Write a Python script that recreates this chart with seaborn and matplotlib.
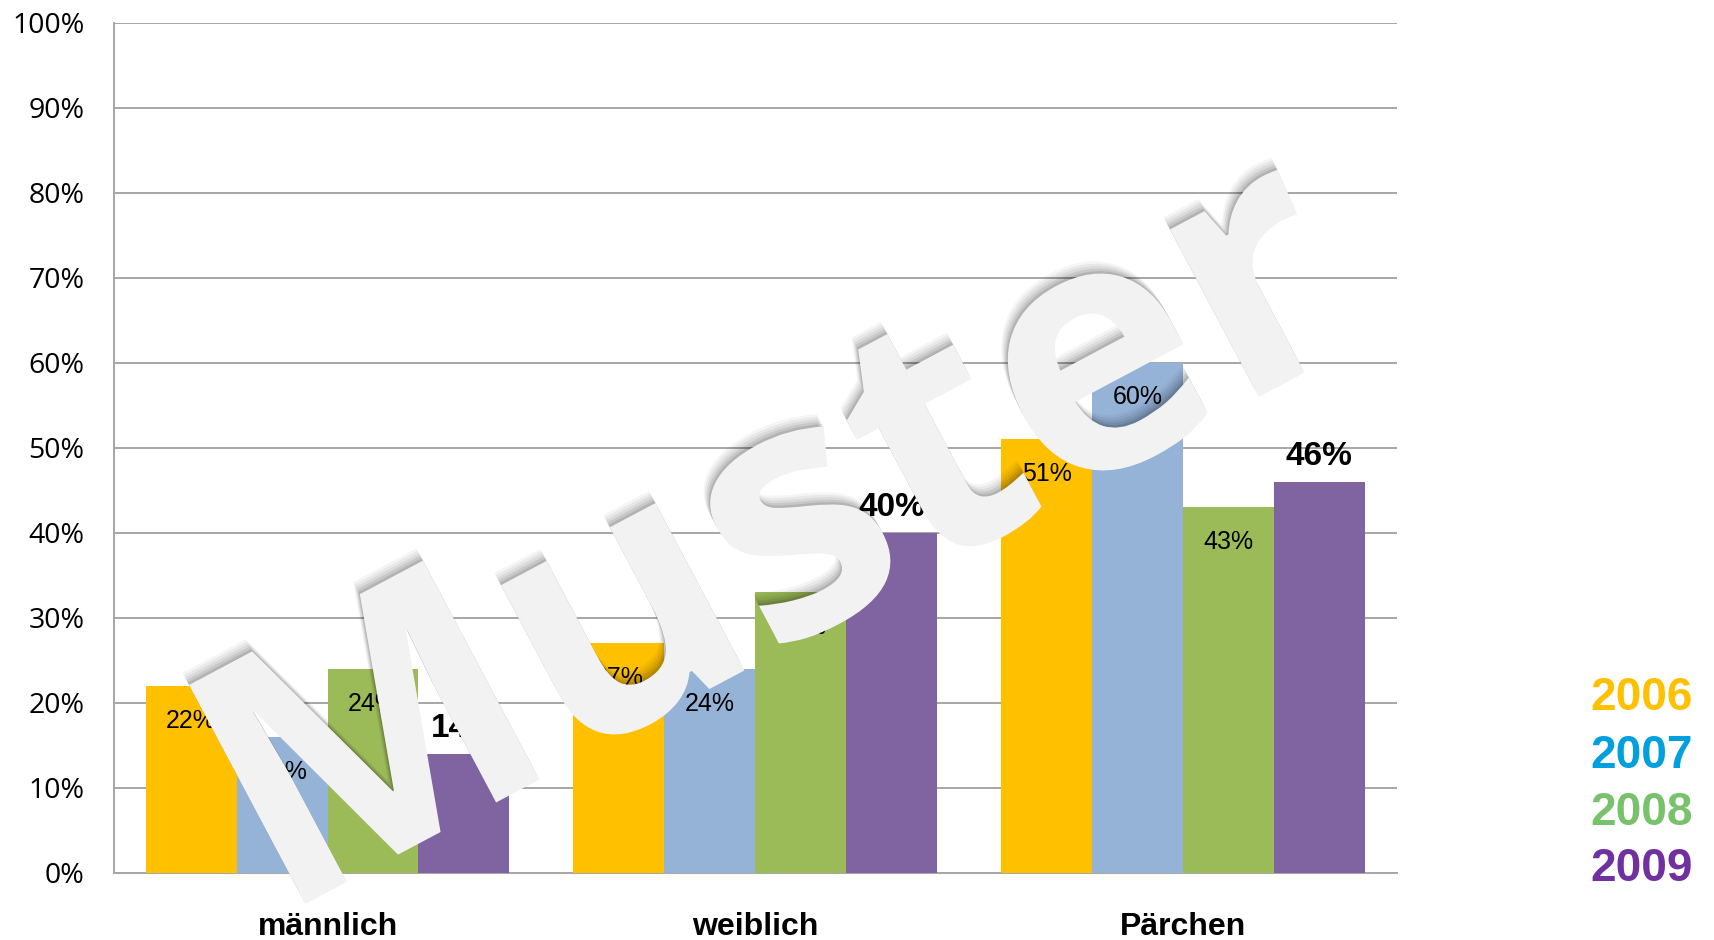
import math
import matplotlib
matplotlib.use("Agg")
import matplotlib.pyplot as plt
import matplotlib.patheffects as pe
from matplotlib.ticker import FixedLocator, FuncFormatter
import seaborn as sns
import pandas as pd

categories = ["männlich", "weiblich", "Pärchen"]
years = ["2006", "2007", "2008", "2009"]
v2006 = [22, 27, 51]
v2007 = [16, 24, 60]
v2008 = [24, 33, 43]
v2009 = [14, 40, 46]
bar_colors = ["#FFC000", "#95B3D7", "#9BBB59", "#8064A2"]
legend_colors = ["#FFC000", "#00A0DE", "#77C26B", "#7030A0"]
yticks = [0, 10, 20, 30, 40, 50, 60, 70, 80, 90, 100]

rows = []
for yr, vals in zip(years, [v2006, v2007, v2008, v2009]):
    for c, v in zip(categories, vals):
        rows.append({"Kategorie": c, "Jahr": yr, "Wert": v})
df = pd.DataFrame(rows)

sns.set_style("white")
plt.rcParams["font.family"] = ["Liberation Sans", "DejaVu Sans"]
plt.rcParams["text.color"] = "black"
plt.rcParams["xtick.labelcolor"] = "black"
plt.rcParams["ytick.labelcolor"] = "black"

fig = plt.figure(figsize=(17.14, 9.40), dpi=100)
ax = fig.add_axes([0.0663, 0.0713, 0.815 - 0.0663, 0.976 - 0.0713])

sns.barplot(data=df, x="Kategorie", y="Wert", hue="Jahr", order=categories,
            hue_order=years, palette=bar_colors, width=0.85, gap=0,
            saturation=1, legend=False, ax=ax, zorder=3, edgecolor="none")

ax.set_xlim(-0.5, 2.5)
ax.set_ylim(0, 100)
ax.yaxis.set_major_locator(FixedLocator(yticks))
ax.yaxis.set_major_formatter(FuncFormatter(lambda v, p: f"{int(v)}%"))
ax.grid(axis="y", color="#A6A6A6", linewidth=1.4, zorder=0)
ax.grid(axis="x", visible=False)
for s in ["top", "right"]:
    ax.spines[s].set_visible(False)
for s in ["left", "bottom"]:
    ax.spines[s].set_color("#A6A6A6")
    ax.spines[s].set_linewidth(1.4)
ax.set_xlabel("")
ax.set_ylabel("")
ax.tick_params(axis="y", which="major", length=7, width=1.4, color="#A6A6A6",
               direction="out", pad=14, labelsize=20.5, labelcolor="black")
for t in ax.get_yticklabels():
    t.set_fontfamily(["Open Sans", "DejaVu Sans"])
ax.tick_params(axis="x", which="major", length=0, pad=28, labelsize=23,
               labelcolor="black")
for t in ax.get_xticklabels():
    t.set_fontweight("bold")
ax.xaxis.set_minor_locator(FixedLocator([-0.5, 0.5, 1.5, 2.5]))
ax.tick_params(axis="x", which="minor", length=7, width=1.4, color="#A6A6A6",
               direction="out")

# data labels
for i, cont in enumerate(ax.containers):
    for bar in cont:
        h = bar.get_height()
        xc = bar.get_x() + bar.get_width() / 2
        if i < 3:
            ax.annotate(f"{int(round(h))}%", (xc, h), xytext=(0, -25),
                        textcoords="offset points", ha="center", va="center",
                        fontsize=18, color="black", zorder=5)
        else:
            ax.annotate(f"{int(round(h))}%", (xc, h), xytext=(0, 18),
                        textcoords="offset points", ha="center", va="center",
                        fontsize=24, fontweight="bold", color="black", zorder=5)

# legend-like year labels
ly = [0.257, 0.196, 0.135, 0.076]
for yr, col, yy in zip(years, legend_colors, ly):
    fig.text(0.9277, yy, yr, color=col, fontsize=33, fontweight="bold",
             ha="left", va="center")

# watermark
rot = 28
ux, uy = -math.sin(math.radians(rot)), math.cos(math.radians(rot))
shadow = []
for s, a in [(2, 0.10), (4, 0.08), (6, 0.06), (8, 0.05), (10, 0.04)]:
    shadow.append(pe.SimplePatchShadow(offset=(ux * s, uy * s),
                                       shadow_rgbFace="#000000", alpha=a))
wm = fig.text(0.482, 0.333, "Muster", fontsize=250, fontweight="bold",
              fontfamily=["Open Sans", "Liberation Sans"],
              color="#F2F2F2", rotation=rot, rotation_mode="anchor",
              ha="center", va="baseline", zorder=10)
wm.set_path_effects(shadow + [pe.Normal()])

fig.savefig("out.png", dpi=100)
